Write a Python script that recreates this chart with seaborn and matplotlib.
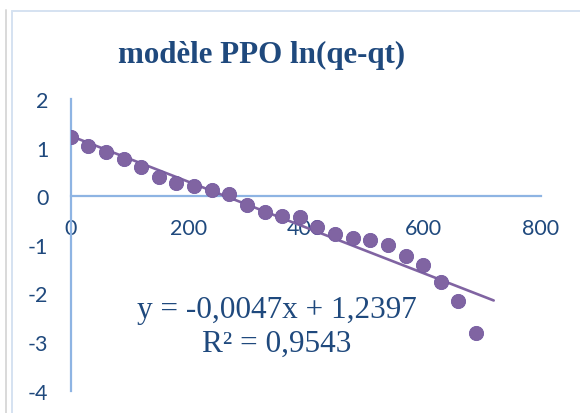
import matplotlib
matplotlib.use("Agg")
import matplotlib.pyplot as plt
from matplotlib.lines import Line2D
import numpy as np
import pandas as pd
import seaborn as sns

# Pseudo-first-order kinetics: ln(qe - qt) against time
time_min = [0, 30, 60, 90, 120, 150, 180, 210, 240, 270, 300, 330,
            360, 390, 420, 450, 480, 510, 540, 570, 600, 630, 660, 690]
ln_qe_qt = [1.21, 1.03, 0.90, 0.77, 0.61, 0.39, 0.27, 0.21, 0.12, 0.05,
            -0.18, -0.32, -0.41, -0.43, -0.64, -0.78, -0.85, -0.89, -1.01,
            -1.22, -1.42, -1.77, -2.16, -2.81]

# Linear trendline reported on the chart
slope = -0.0047
intercept = 1.2397
r_squared = 0.9543
trend_span = [0, 720]

x_ticks = [0, 200, 400, 600, 800]
y_ticks = [-4, -3, -2, -1, 0, 1, 2]

title = "modèle PPO ln(qe-qt)"

text_blue = "#1F497D"
purple = "#8064A2"
axis_blue = "#8EB4E3"

sns.set_theme(style="white")
plt.rcParams["font.family"] = ["Lato", "DejaVu Sans"]
plt.rcParams["axes.unicode_minus"] = False

W, H = 580, 414
fig = plt.figure(figsize=(W / 100, H / 100), dpi=100)
fig.patch.set_facecolor("white")

ax = fig.add_axes([70.7 / W, (H - 391.7) / H, 470 / W, 291.7 / H])
ax.set_facecolor("none")

df = pd.DataFrame({"t": time_min, "y": ln_qe_qt})
trend = pd.DataFrame({"t": trend_span,
                      "y": [slope * t + intercept for t in trend_span]})

sns.lineplot(data=trend, x="t", y="y", ax=ax, color=purple, linewidth=1.9,
             zorder=2)
sns.scatterplot(data=df, x="t", y="y", ax=ax, color=purple, s=105,
                edgecolor="#7359A0", linewidth=0.6, zorder=3)

ax.set_xlim(0, 800)
ax.set_ylim(-4, 2)
ax.set_xticks(x_ticks)
ax.set_yticks(y_ticks)
ax.set_xlabel("")
ax.set_ylabel("")

for side in ("top", "right"):
    ax.spines[side].set_visible(False)
ax.spines["left"].set_position(("data", 0))
ax.spines["bottom"].set_position(("data", 0))
for side in ("left", "bottom"):
    ax.spines[side].set_color(axis_blue)
    ax.spines[side].set_linewidth(1.6)
    ax.spines[side].set_zorder(1)

ax.tick_params(axis="both", length=0, labelsize=15.5, labelcolor=text_blue)
ax.tick_params(axis="y", pad=16)
ax.tick_params(axis="x", pad=16)
ax.grid(False)

# Title and trendline equation
fig.text(262 / W, 1 - 63 / H, title, ha="center", va="baseline",
         family="Liberation Serif", fontweight="bold", fontsize=22.3,
         color=text_blue)
eq = f"y = {slope:.4f}x + {intercept:.4f}".replace(".", ",")
r2 = f"R² = {r_squared:.4f}".replace(".", ",")
fig.text(277 / W, 1 - 318 / H, eq, ha="center", va="baseline",
         family="Liberation Serif", fontsize=22.5, color=text_blue)
fig.text(277 / W, 1 - 351.7 / H, r2, ha="center", va="baseline",
         family="Liberation Serif", fontsize=22.5, color=text_blue)

# Chart area border
fig.add_artist(Line2D([5.5 / W, 5.5 / W], [0, 1 - 11 / H],
                      transform=fig.transFigure, color="#D9D9D9", lw=1.4))
fig.add_artist(Line2D([12 / W, 12 / W], [0, 1 - 12 / H],
                      transform=fig.transFigure, color="#D5E2F1", lw=1.4))
fig.add_artist(Line2D([12 / W, 1], [1 - 12 / H, 1 - 12 / H],
                      transform=fig.transFigure, color="#D5E2F1", lw=1.4))

fig.savefig("out.png", dpi=100)
